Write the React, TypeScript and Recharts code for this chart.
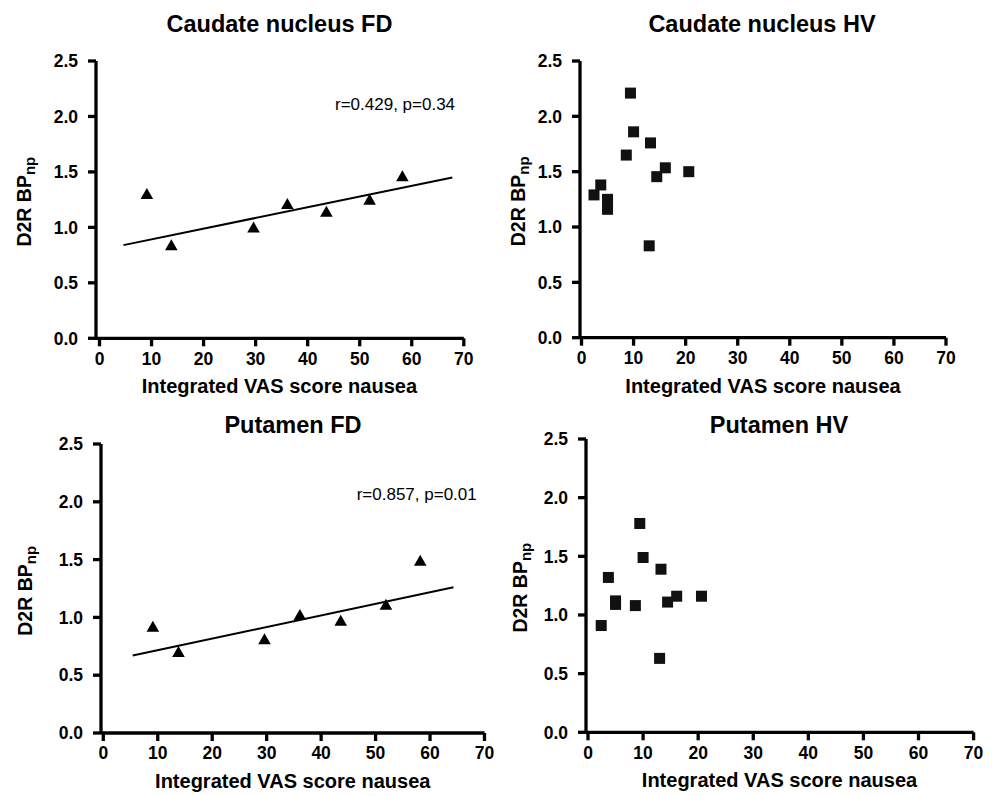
import React from 'react';
import { ScatterChart, Scatter, XAxis, YAxis, ReferenceLine } from 'recharts';

const FONT = '"Liberation Sans", Arial, Helvetica, sans-serif';

// integrated VAS nausea score per subject
const fdScores = [9.1, 13.8, 29.6, 36.1, 43.6, 51.9, 58.2];
const hvScores = [2.4, 3.7, 5.0, 5.0, 8.6, 9.4, 10.0, 13.25, 13.0, 14.45, 16.1, 20.6];

// D2R BPnp values
const caudateFd = [1.3, 0.84, 1.0, 1.21, 1.14, 1.25, 1.46];
const caudateHv = [1.29, 1.38, 1.25, 1.16, 1.65, 2.21, 1.86, 1.76, 0.83, 1.455, 1.535, 1.5];
const putamenFd = [0.92, 0.7, 0.81, 1.02, 0.97, 1.11, 1.49];
const putamenHv = [0.91, 1.32, 1.12, 1.09, 1.08, 1.78, 1.49, 1.39, 0.63, 1.11, 1.16, 1.16];

// regression line ends, [x, y]
const caudateFdFit = [[4.6, 0.84], [67.8, 1.45]];
const putamenFdFit = [[5.4, 0.67], [64.3, 1.26]];

const xTicks = [0, 10, 20, 30, 40, 50, 60, 70];
const yTicks = [0, 0.5, 1, 1.5, 2, 2.5];

const toPoints = (xs: number[], ys: number[]) => xs.map((x, i) => ({ x, y: ys[i] }));

const Triangle = (props: any) => {
  const { cx, cy } = props;
  return <polygon points={`${cx},${cy - 6} ${cx + 6.3},${cy + 5} ${cx - 6.3},${cy + 5}`} fill="#000" />;
};

const Square = (props: any) => {
  const { cx, cy } = props;
  return <rect x={cx - 5.5} y={cy - 5.5} width={11} height={11} fill="#111" />;
};

interface Box { left: number; right: number; top: number; bottom: number; x0: number }

const panels = [
  {
    title: 'Caudate nucleus FD', data: toPoints(fdScores, caudateFd), shape: Triangle, fit: caudateFdFit,
    note: 'r=0.429, p=0.34', noteX: 335, noteY: 110,
    box: { left: 95.5, right: 463.3, top: 61, bottom: 338.3, x0: 99 }, titleX: 279.5, titleY: 32, yLabelX: 31,
  },
  {
    title: 'Caudate nucleus HV', data: toPoints(hvScores, caudateHv), shape: Square,
    box: { left: 580, right: 946, top: 61, bottom: 337.7, x0: 581.5 }, titleX: 762, titleY: 32, yLabelX: 525,
  },
  {
    title: 'Putamen FD', data: toPoints(fdScores, putamenFd), shape: Triangle, fit: putamenFdFit,
    note: 'r=0.857, p=0.01', noteX: 356.7, noteY: 500,
    box: { left: 101, right: 484.5, top: 444.3, bottom: 733.3, x0: 103.3 }, titleX: 293, titleY: 433, yLabelX: 31.7,
  },
  {
    title: 'Putamen HV', data: toPoints(hvScores, putamenHv), shape: Square,
    box: { left: 585.7, right: 973.3, top: 439, bottom: 732.3, x0: 587.7 }, titleX: 779, titleY: 433, yLabelX: 526.7,
  },
];

const YW = 60;
const XH = 35;

const Panel = ({ p }: { p: any }) => {
  const b: Box = p.box;
  const cl = b.left - 80;
  const ct = b.top - 12;
  const w = b.right + 15 - cl;
  const h = b.bottom + 40 - ct;
  // y axis sits a little left of x = 0
  const xMin = -(b.x0 - b.left) / ((b.right - b.x0) / 70);
  const axisStyle = { stroke: '#000', strokeWidth: 3.3 };
  const tickStyle = { fill: '#000', fontSize: 17.5, fontWeight: 'bold', fontFamily: FONT };
  return (
    <div style={{ position: 'absolute', left: cl, top: ct }}>
      <ScatterChart width={w} height={h} margin={{ top: 12, right: 15, bottom: 5, left: 20 }}>
        <XAxis
          type="number" dataKey="x" domain={[xMin, 70]} ticks={xTicks} interval={0}
          height={XH} axisLine={axisStyle} tickLine={axisStyle} tickSize={8} tickMargin={6} tick={tickStyle}
        />
        <YAxis
          type="number" dataKey="y" domain={[0, 2.5]} ticks={yTicks} interval={0} width={YW}
          axisLine={axisStyle} tickLine={axisStyle} tickSize={8} tickMargin={10} tick={tickStyle}
          tickFormatter={(v: number) => v.toFixed(1)}
        />
        {p.fit && (
          <ReferenceLine
            segment={[{ x: p.fit[0][0], y: p.fit[0][1] }, { x: p.fit[1][0], y: p.fit[1][1] }]}
            stroke="#000" strokeWidth={2}
          />
        )}
        <Scatter data={p.data} shape={p.shape} isAnimationActive={false} />
      </ScatterChart>
    </div>
  );
};

export default function App() {
  return (
    <div style={{ position: 'absolute', left: 0, top: 0, width: 999, height: 796, background: '#fff', fontFamily: FONT }}>
      {panels.map((p) => <Panel key={p.title} p={p} />)}
      <svg width={999} height={796} style={{ position: 'absolute', left: 0, top: 0, pointerEvents: 'none' }}>
        {panels.map((p) => {
          const b = p.box;
          const midX = (b.left + b.right) / 2;
          const midY = (b.top + b.bottom) / 2 + 2;
          return (
            <g key={p.title} fontFamily={FONT} fill="#000">
              <text x={p.titleX} y={p.titleY} textAnchor="middle" fontSize={23.5} fontWeight="bold">{p.title}</text>
              <text x={midX} y={b.bottom + 55} textAnchor="middle" fontSize={20} fontWeight="bold">Integrated VAS score nausea</text>
              <text transform={`translate(${p.yLabelX},${midY}) rotate(-90)`} textAnchor="middle" fontSize={19.5} fontWeight="bold">
                D2R BP<tspan fontSize={15} dy={4}>np</tspan>
              </text>
              {p.note && <text x={p.noteX} y={p.noteY} fontSize={17}>{p.note}</text>}
            </g>
          );
        })}
      </svg>
    </div>
  );
}
